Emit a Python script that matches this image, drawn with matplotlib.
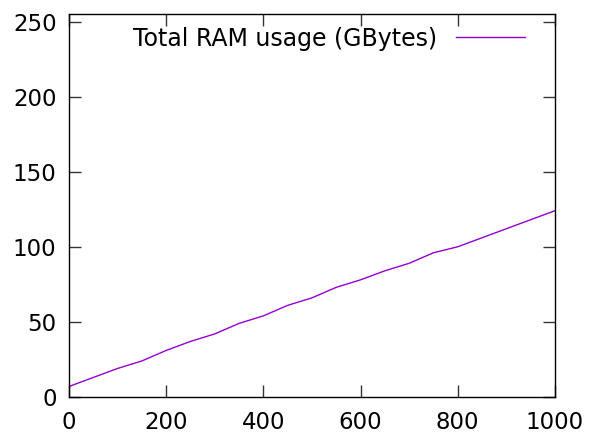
import matplotlib
matplotlib.use("Agg")
import matplotlib.pyplot as plt

# Sampled RAM usage every 50 steps
steps = [0, 50, 100, 150, 200, 250, 300, 350, 400, 450, 500,
         550, 600, 650, 700, 750, 800, 850, 900, 950, 1000]
ram_gb = [7, 13, 19, 24, 31, 37, 42, 49, 54, 61, 66,
          73, 78, 84, 89, 96, 100, 106, 112, 118, 124]

x_ticks = [0, 200, 400, 600, 800, 1000]
y_ticks = [0, 50, 100, 150, 200, 250]
series_label = "Total RAM usage (GBytes)"

plt.rcParams['font.family'] = ['DejaVu Sans']

fig = plt.figure(figsize=(5.91, 4.34), dpi=100)
ax = fig.add_axes([0.1168, 0.0853, 0.822, 0.8824])

ax.plot(steps, ram_gb, color="#9400D3", lw=1.0, label=series_label)

ax.set_xlim(0, 1000)
ax.set_ylim(0, 255)
ax.set_xticks(x_ticks)
ax.set_yticks(y_ticks)
ax.tick_params(direction="in", length=8.5, width=1, labelsize=16.5,
               top=True, right=True, color="#333333")
ax.tick_params(axis="x", pad=10)
ax.tick_params(axis="y", pad=9)
for s in ax.spines.values():
    s.set_linewidth(1.0)
    s.set_color("black")

ax.legend(loc="upper right", frameon=False, fontsize=17, markerfirst=False,
          handlelength=2.9, handletextpad=0.8, borderpad=0, borderaxespad=0,
          bbox_to_anchor=(0.938, 0.967))

fig.savefig("out.png", dpi=100)
